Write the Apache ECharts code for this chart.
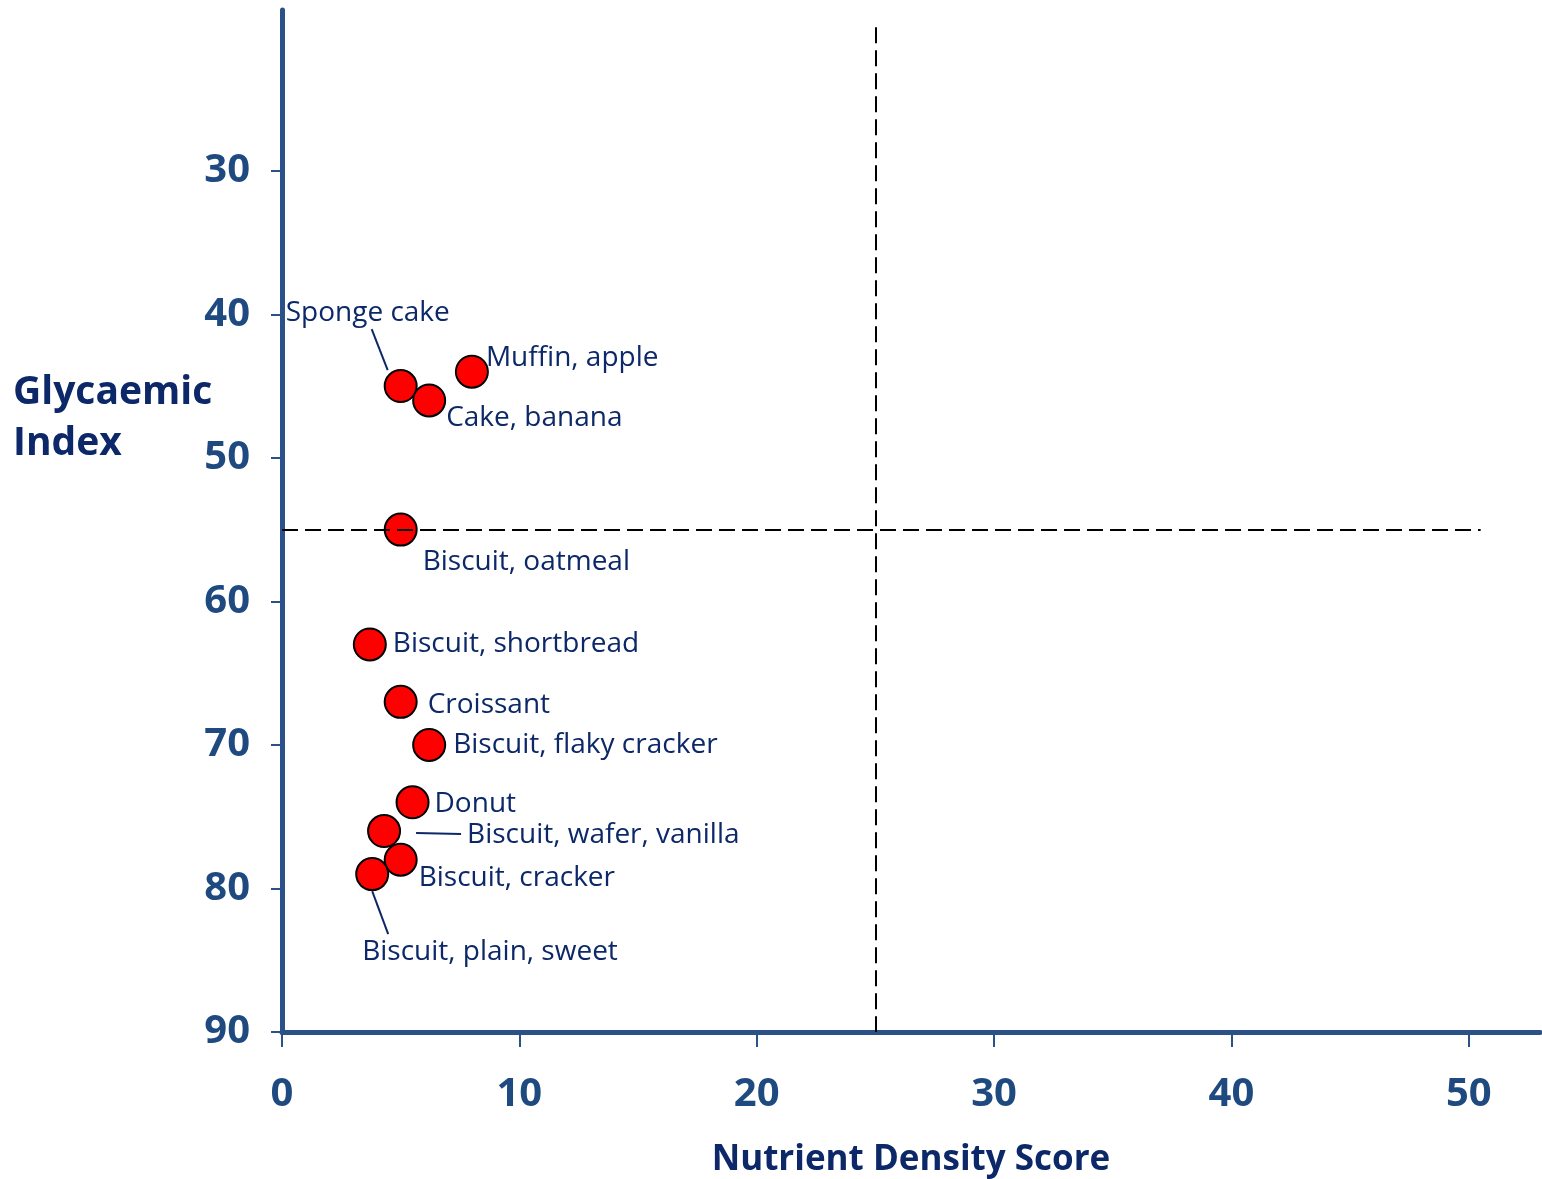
<!DOCTYPE html>
<html>
<head>
<meta charset="utf-8">
<title>Glycaemic Index vs Nutrient Density Score</title>
<script src="https://cdn.jsdelivr.net/npm/echarts@6/dist/echarts.min.js"></script>
<style>
  html, body { margin: 0; padding: 0; background: #ffffff; }
  #chart { width: 1542px; height: 1179px; }
</style>
</head>
<body>
<div id="chart"></div>
<script>
// Baked goods: nutrient density score against glycaemic index
const foods = [
  'Sponge cake', 'Muffin, apple', 'Cake, banana', 'Biscuit, oatmeal',
  'Biscuit, shortbread', 'Croissant', 'Biscuit, flaky cracker', 'Donut',
  'Biscuit, wafer, vanilla', 'Biscuit, cracker', 'Biscuit, plain, sweet'
];
const nutrientDensity = [5, 8, 6.2, 5, 3.7, 5, 6.2, 5.5, 4.3, 5, 3.8];
const glycaemicIndex  = [45, 44, 46, 55, 63, 67, 70, 74, 76, 78, 79];

const xTickValues = [0, 10, 20, 30, 40, 50];
const yTickValues = [30, 40, 50, 60, 70, 80, 90];

// Quadrant cut-offs and the extent of their dashed guides
const densityCutoff = 25;
const giCutoff = 55;
const giGuideExtent = [20, 90];
const densityGuideExtent = [0, 50.5];

// Label placement (pixel shifts from the default right-hand position)
const labelShift = {
  'Sponge cake': [-132, -73],
  'Muffin, apple': [-3, -14],
  'Cake, banana': [0, 18],
  'Biscuit, oatmeal': [5, 32],
  'Biscuit, shortbread': [6, 0],
  'Croissant': [10, 3],
  'Biscuit, flaky cracker': [7, 0],
  'Donut': [5, 2],
  'Biscuit, wafer, vanilla': [66, 4],
  'Biscuit, cracker': [1, 18],
  'Biscuit, plain, sweet': [-27, 78]
};
// Leader lines: start/end pixel offsets from the marker centre
const leaderOffsets = {
  'Sponge cake': [[-29, -57], [-13, -16]],
  'Biscuit, wafer, vanilla': [[32, 2], [77, 3]],
  'Biscuit, plain, sweet': [[0, 17], [16, 60]]
};

const AXIS_COLOR = '#2A5288';
const TICK_TEXT = '#1F4A80';
const TEXT_COLOR = '#0C2868';
const FONT = '"Open Sans", "Noto Sans", sans-serif';

const leaderFoods = foods.filter(n => leaderOffsets[n]);

const chart = echarts.init(document.getElementById('chart'), null, { renderer: 'canvas' });

chart.setOption({
  animation: false,
  backgroundColor: '#ffffff',
  grid: { left: 282, right: 2, top: 10, bottom: 147, containLabel: false, outerBoundsMode: 'none' },
  graphic: [{
    type: 'text',
    left: 13,
    top: 367,
    style: {
      text: 'Glycaemic\nIndex',
      font: 'bold 39px ' + FONT,
      lineHeight: 51,
      fill: TEXT_COLOR,
      verticalAlign: 'top'
    }
  }],
  xAxis: {
    type: 'value',
    min: 0,
    max: 53,
    splitLine: { show: false },
    axisLine: { show: true, onZero: false, lineStyle: { color: AXIS_COLOR, width: 5 } },
    axisTick: { show: true, length: 15, customValues: xTickValues, lineStyle: { color: AXIS_COLOR, width: 2 } },
    axisLabel: {
      customValues: xTickValues,
      margin: 43,
      fontFamily: FONT,
      fontWeight: 'bold',
      fontSize: 40,
      color: TICK_TEXT
    },
    name: 'Nutrient Density Score',
    nameLocation: 'middle',
    nameGap: 111,
    nameTextStyle: { fontFamily: FONT, fontWeight: 'bold', fontSize: 35, color: TEXT_COLOR }
  },
  yAxis: {
    type: 'value',
    inverse: true,
    min: 18.8,
    max: 90,
    splitLine: { show: false },
    axisLine: { show: true, onZero: false, lineStyle: { color: AXIS_COLOR, width: 5 } },
    axisTick: { show: true, length: 11, customValues: yTickValues, lineStyle: { color: AXIS_COLOR, width: 2 } },
    axisLabel: {
      customValues: yTickValues,
      margin: 32,
      fontFamily: FONT,
      fontWeight: 'bold',
      fontSize: 40,
      color: TICK_TEXT
    }
  },
  series: [
    {
      // dashed quadrant guides
      type: 'line',
      data: [],
      z: 1,
      markLine: {
        silent: true,
        symbol: 'none',
        label: { show: false },
        lineStyle: { color: '#000000', width: 2, type: [16, 7] },
        data: [
          [{ coord: [densityGuideExtent[0], giCutoff] }, { coord: [densityGuideExtent[1], giCutoff] }],
          [{ coord: [densityCutoff, giGuideExtent[0]] }, { coord: [densityCutoff, giGuideExtent[1]] }]
        ]
      }
    },
    {
      // leader lines for the displaced labels
      type: 'custom',
      z: 2,
      silent: true,
      data: leaderFoods.map(n => {
        const i = foods.indexOf(n);
        return [nutrientDensity[i], glycaemicIndex[i]];
      }),
      encode: { x: 0, y: 1 },
      renderItem: function (params, api) {
        const c = api.coord([api.value(0), api.value(1)]);
        const off = leaderOffsets[leaderFoods[params.dataIndex]];
        return {
          type: 'line',
          shape: {
            x1: c[0] + off[0][0], y1: c[1] + off[0][1],
            x2: c[0] + off[1][0], y2: c[1] + off[1][1]
          },
          style: { stroke: TEXT_COLOR, lineWidth: 2 }
        };
      }
    },
    {
      type: 'scatter',
      z: 3,
      symbol: 'circle',
      symbolSize: 32,
      itemStyle: { color: '#FF0000', borderColor: '#000000', borderWidth: 2, opacity: 1 },
      label: {
        show: true,
        formatter: '{b}',
        position: 'right',
        distance: 0,
        fontFamily: FONT,
        fontSize: 28,
        color: TEXT_COLOR
      },
      labelLayout: function (params) {
        const s = labelShift[foods[params.dataIndex]] || [0, 0];
        return { dx: s[0], dy: s[1] };
      },
      data: foods.map((n, i) => ({ name: n, value: [nutrientDensity[i], glycaemicIndex[i]] }))
    }
  ]
});
</script>
</body>
</html>
